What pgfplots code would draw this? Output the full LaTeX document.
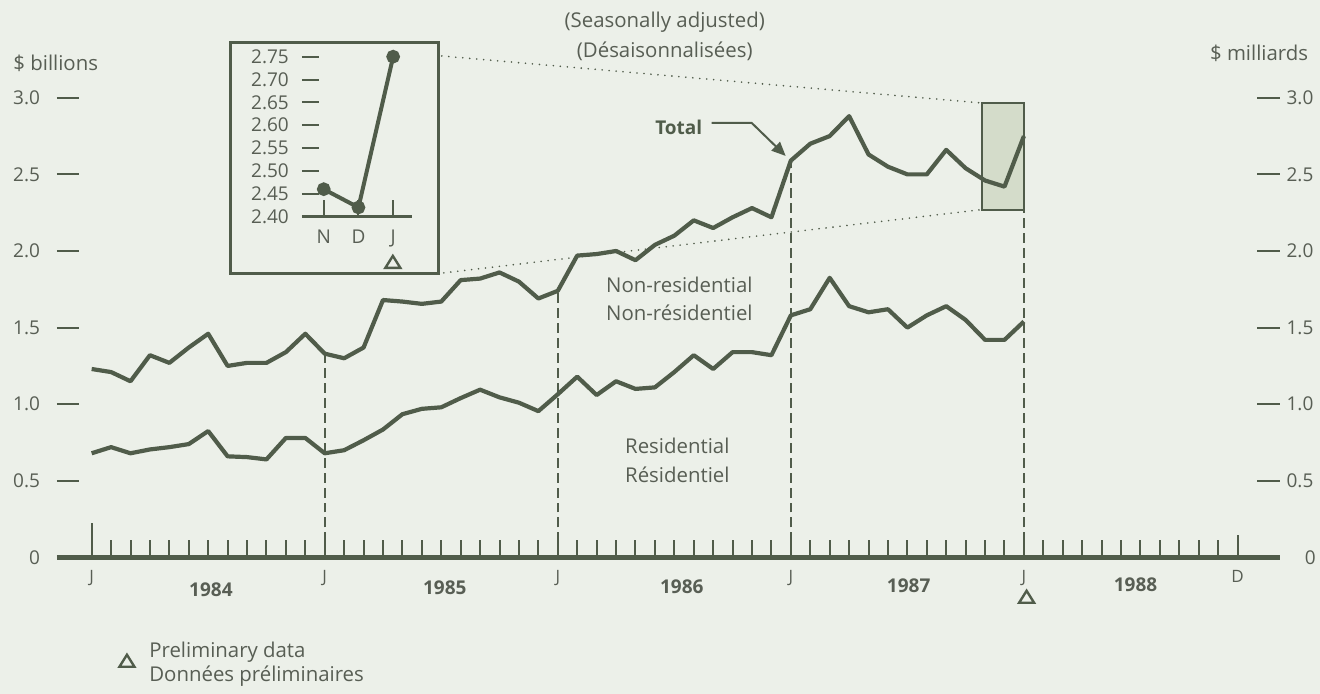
\documentclass[border=0pt]{standalone}
\usepackage{pgfplots}
\pgfplotsset{compat=1.18}
\usepackage{pgfplotstable}
\usepackage{fontspec}
\setmainfont{Open Sans}
\usetikzlibrary{arrows.meta}
\definecolor{bg}{RGB}{236,240,233}
\definecolor{ink}{RGB}{80,92,74}
\definecolor{txt}{RGB}{88,94,84}
\definecolor{boxfill}{RGB}{212,220,202}

\pgfplotstableread{
m total res
0 1.23 0.68
1 1.21 0.72
2 1.15 0.68
3 1.32 0.705
4 1.27 0.72
5 1.37 0.74
6 1.46 0.825
7 1.25 0.66
8 1.27 0.655
9 1.27 0.64
10 1.34 0.78
11 1.46 0.78
12 1.33 0.68
13 1.30 0.70
14 1.37 0.765
15 1.68 0.835
16 1.67 0.935
17 1.655 0.97
18 1.67 0.98
19 1.81 1.04
20 1.82 1.095
21 1.86 1.045
22 1.80 1.01
23 1.69 0.955
24 1.74 1.065
25 1.97 1.18
26 1.98 1.06
27 2.00 1.15
28 1.94 1.10
29 2.04 1.11
30 2.10 1.21
31 2.20 1.32
32 2.15 1.23
33 2.22 1.34
34 2.28 1.34
35 2.22 1.32
36 2.59 1.58
37 2.70 1.62
38 2.75 1.825
39 2.88 1.64
40 2.63 1.60
41 2.55 1.62
42 2.50 1.50
43 2.50 1.58
44 2.66 1.64
45 2.54 1.55
46 2.46 1.42
47 2.42 1.42
48 2.75 1.54
}\datatable

\newcommand{\fs}{\fontsize{9.5}{11}\selectfont}
\newcommand{\ft}{\fontsize{10.2}{12}\selectfont}

\begin{document}
\begin{tikzpicture}
\begin{scope}[x=0.5pt,y=-0.5pt]
\fill[bg] (0,0) rectangle (1320,694);
\useasboundingbox (0,0) rectangle (1320,694);
\draw[ink,line width=1.5pt] (231,43) rectangle (439,274);
\end{scope}

% main axis: data, x axis, left y axis
\begin{axis}[
  at={(28.5pt,-278.85pt)}, anchor=south west,
  scale only axis, width=611.5pt, height=229.95pt,
  xmin=-1.786, xmax=61.16, ymin=0, ymax=3,
  clip=false,
  axis x line*=bottom, axis y line*=left,
  x axis line style={line width=2.3pt, draw=ink, -},
  y axis line style={draw=none},
  xtick={0,12,24,36,48,59},
  xticklabels={J,J,J,J,J,D},
  minor xtick={0,...,59},
  ytick={0,0.5,1,1.5,2,2.5,3},
  yticklabels={0,0.5,1.0,1.5,2.0,2.5,3.0},
  tick align=inside,
  major tick length=11pt, minor tick length=8.5pt,
  every tick/.style={draw=ink, line width=1pt},
  xticklabel style={font=\fontsize{8.5}{9}\selectfont, text=txt, yshift=-3pt},
  yticklabel style={font=\fs, text=txt, xshift=-5pt},
]
\addplot[draw=ink, line width=1pt, fill=boxfill] coordinates {(45.82,2.27) (48,2.27) (48,2.966) (45.82,2.966)} -- cycle;
\coordinate (bTL) at (axis cs:45.82,2.966);
\coordinate (bBL) at (axis cs:45.82,2.27);
\addplot[ink, line width=1pt, dash pattern=on 5pt off 2.5pt] coordinates {(12,0) (12,1.33)};
\addplot[ink, line width=1pt, dash pattern=on 5pt off 2.5pt] coordinates {(24,0) (24,1.74)};
\addplot[ink, line width=1pt, dash pattern=on 5pt off 2.5pt] coordinates {(36,0) (36,2.59)};
\addplot[ink, line width=1pt, dash pattern=on 5pt off 2.5pt] coordinates {(48,0) (48,2.27)};
\addplot[ink, line width=1pt] coordinates {(0,0) (0,0.228)};
\addplot[ink, line width=2.1pt, line join=round] table[x=m,y=res] {\datatable};
\addplot[ink, line width=2.1pt, line join=round] table[x=m,y=total] {\datatable};
\end{axis}

% right y axis
\begin{axis}[
  at={(28.5pt,-278.85pt)}, anchor=south west,
  scale only axis, width=611.5pt, height=229.95pt,
  xmin=-1.786, xmax=61.16, ymin=0, ymax=3,
  clip=false,
  hide x axis, axis y line*=right,
  y axis line style={draw=none},
  ytick={0.5,1,1.5,2,2.5,3},
  yticklabels={0.5,1.0,1.5,2.0,2.5,3.0},
  tick align=inside, major tick length=11.5pt,
  every tick/.style={draw=ink, line width=1pt},
  yticklabel style={font=\fs, text=txt},
]
\node[anchor=west, inner sep=0pt, font=\fs, text=txt] at (axis cs:61.16,0) [xshift=12.5pt] {0};
\end{axis}

% inset
\begin{axis}[
  at={(151pt,-108.35pt)}, anchor=south west,
  scale only axis, width=55.2pt, height=80pt,
  xmin=45.37, xmax=48.55, ymin=2.40, ymax=2.75,
  clip=false,
  axis x line*=bottom, axis y line*=left,
  x axis line style={line width=1.2pt, draw=ink, -},
  y axis line style={draw=none},
  xtick={46,47,48}, xticklabels={N,D,J},
  ytick={2.40,2.45,2.50,2.55,2.60,2.65,2.70,2.75},
  yticklabels={2.40,2.45,2.50,2.55,2.60,2.65,2.70,2.75},
  tick align=inside, major tick length=8.5pt,
  every tick/.style={draw=ink, line width=1pt},
  xticklabel style={font=\fs, text=txt, yshift=-3pt},
  yticklabel style={font=\fs, text=txt, xshift=-3pt},
]
\addplot[ink, line width=2pt, mark=*, mark size=2.4pt, mark options={fill=ink, solid}] coordinates {(46,2.46) (47,2.42) (48,2.75)};
\end{axis}

\begin{scope}[x=0.5pt,y=-0.5pt, every node/.style={inner sep=0pt, font=\ft, text=txt}]
\draw[ink, line width=0.9pt, dash pattern=on 0pt off 3.5pt, line cap=round] (442,56) -- (bTL);
\draw[ink, line width=0.9pt, dash pattern=on 0pt off 3.5pt, line cap=round] (444,273) -- (bBL);
\node at (665,22) {(Seasonally adjusted)};
\node at (665,51) {(Désaisonnalisées)};
\node[anchor=west] at (13,63) {\$ billions};
\node[anchor=east] at (1309,53) {\$ milliards};
\node[font=\fs\bfseries, text=ink] at (679,127) {Total};
\draw[ink, line width=1pt, -{Triangle[length=7pt,width=6pt]}] (712,123) -- (752,123) -- (786,156);
\node[anchor=west] at (606,285) {Non-residential};
\node[anchor=west] at (606,313) {Non-résidentiel};
\node[anchor=west] at (625,446) {Residential};
\node[anchor=west] at (625,475) {Résidentiel};
\node[font=\fs\bfseries] at (211,590) {1984};
\node[font=\fs\bfseries] at (445,588) {1985};
\node[font=\fs\bfseries] at (682,587) {1986};
\node[font=\fs\bfseries] at (909,586) {1987};
\node[font=\fs\bfseries] at (1136,585) {1988};
\foreach \tx/\ty in {1027/597, 127/661, 393/262}{
  \draw[ink, line width=1.2pt, line join=miter] (\tx-7.5,\ty+6) -- (\tx+7.5,\ty+6) -- (\tx,\ty-6) -- cycle;
}
\node[anchor=west] at (149,652) {Preliminary data};
\node[anchor=west] at (149,676) {Données préliminaires};
\end{scope}
\end{tikzpicture}
\end{document}
